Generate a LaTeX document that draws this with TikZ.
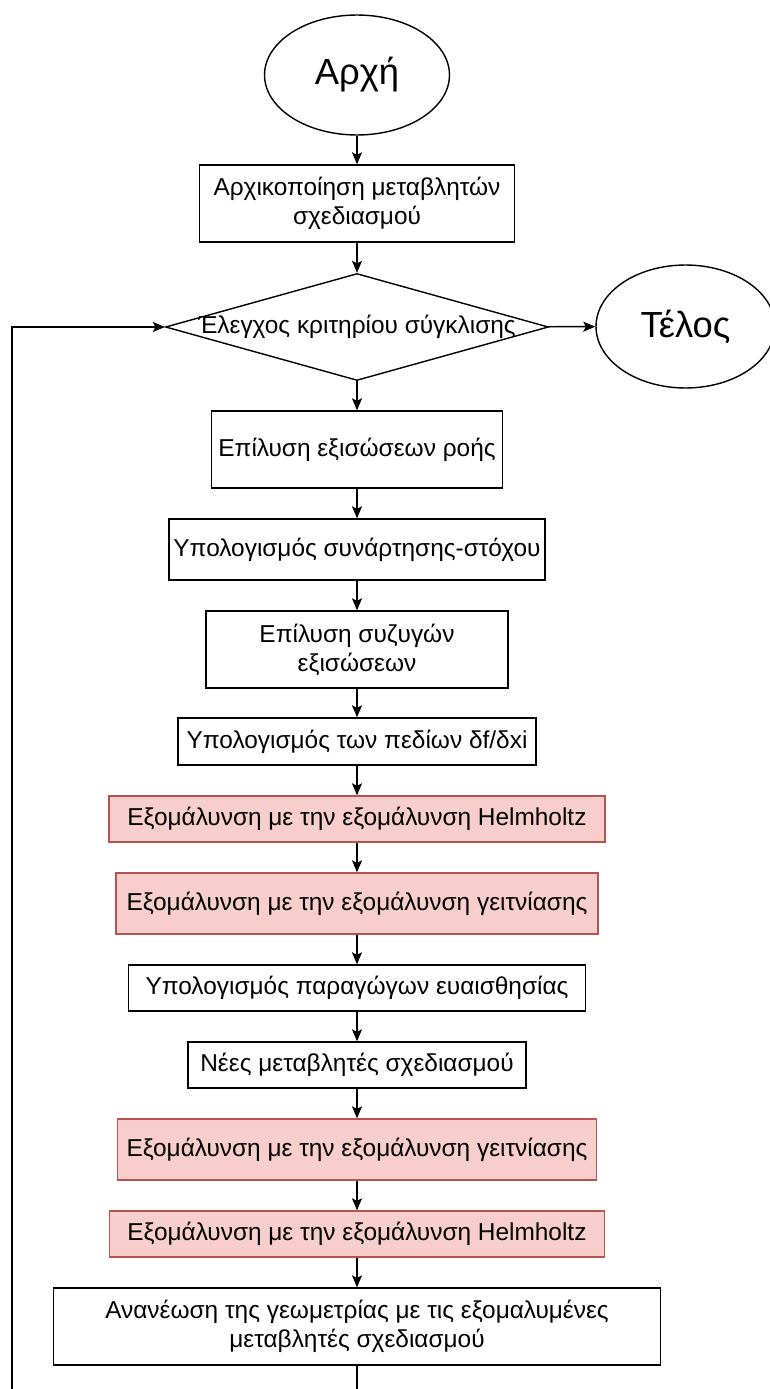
\documentclass[tikz,border=0pt]{standalone}
\usepackage{fontspec}
\setmainfont{Liberation Sans}
\usetikzlibrary{shapes.geometric,arrows.meta}
\definecolor{redfill}{HTML}{F8CECC}
\definecolor{redline}{HTML}{B85450}
\tikzset{
	box/.style={draw, line width=0.8pt, align=center, inner sep=2pt, font=\fontsize{13.9}{16.5}\selectfont},
	redbox/.style={box, draw=redline, fill=redfill},
	term/.style={draw, line width=0.8pt, ellipse, font=\fontsize{20.7}{23}\selectfont},
	decision/.style={draw, line width=0.8pt, diamond, inner sep=0pt, aspect=3.58, font=\fontsize{13.9}{16.5}\selectfont}
}
\begin{document}
\begin{tikzpicture}[>={Stealth[length=2.4mm,width=2mm,inset=0.5mm]}, x=0.02cm, y=-0.02cm, line width=0.8pt]
	%\draw [help lines] (0,0) grid (770,1389);
	\useasboundingbox (0,0) rectangle (770,1389);
	\node [term, minimum width=3.7cm, minimum height=2.4cm] (start) at (357,75) {Αρχή};
	\node [box, minimum width=6.3cm, minimum height=1.54cm] (init) at (357,203.5) {Αρχικοποίηση μεταβλητών\\σχεδιασμού};
	\node [decision, minimum width=7.66cm, minimum height=2.14cm] (check) at (357,327) {\makebox[0pt]{\raisebox{-3pt}{Έλεγχος κριτηρίου σύγκλισης}}};
	\node [term, minimum width=3.58cm, minimum height=2.46cm] (end) at (685.5,326.5) {Τέλος};
	\node [box, minimum width=5.82cm, minimum height=1.54cm] (flow) at (357,449.5) {Επίλυση εξισώσεων ροής};
	\node [box, minimum width=7.52cm, minimum height=1.22cm] (obj) at (357,549.5) {Υπολογισμός συνάρτησης-στόχου};
	\node [box, minimum width=6.04cm, minimum height=1.54cm] (adj) at (357,649.5) {Επίλυση συζυγών\\εξισώσεων};
	\node [box, minimum width=7.16cm, minimum height=0.94cm] (field) at (357,741.5) {Υπολογισμός των πεδίων δf/δxi};
	\node [redbox, minimum width=9.92cm, minimum height=0.92cm] (helmA) at (357,819) {Εξομάλυνση με την εξομάλυνση Helmholtz};
	\node [redbox, minimum width=9.64cm, minimum height=1.22cm] (neighA) at (357,903.5) {Εξομάλυνση με την εξομάλυνση γειτνίασης};
	\node [box, minimum width=9.14cm, minimum height=0.92cm] (sens) at (357,988) {Υπολογισμός παραγώγων ευαισθησίας};
	\node [box, minimum width=6.76cm, minimum height=0.92cm] (newvar) at (357,1065) {Νέες μεταβλητές σχεδιασμού};
	\node [redbox, minimum width=9.58cm, minimum height=1.22cm] (neighB) at (357,1149.5) {Εξομάλυνση με την εξομάλυνση γειτνίασης};
	\node [redbox, minimum width=9.9cm, minimum height=0.92cm] (helmB) at (357,1234) {Εξομάλυνση με την εξομάλυνση Helmholtz};
	\node [box, minimum width=12.14cm, minimum height=1.54cm] (update) at (357,1326.5) {Ανανέωση της γεωμετρίας με τις εξομαλυμένες\\μεταβλητές σχεδιασμού};
	\coordinate (loop) at (12,327);
	\draw [->] (start) -- (init);
	\draw [->] (init) -- (check);
	\draw [->] (check) -- (end);
	\draw [->] (check) -- (flow);
	\draw [->] (flow) -- (obj);
	\draw [->] (obj) -- (adj);
	\draw [->] (adj) -- (field);
	\draw [->] (field) -- (helmA);
	\draw [->] (helmA) -- (neighA);
	\draw [->] (neighA) -- (sens);
	\draw [->] (sens) -- (newvar);
	\draw [->] (newvar) -- (neighB);
	\draw [->] (neighB) -- (helmB);
	\draw [->] (helmB) -- (update);
	\draw [->] (update.south) -- ++(0,60) -| (loop) -- (check.west);
\end{tikzpicture}
\end{document}
